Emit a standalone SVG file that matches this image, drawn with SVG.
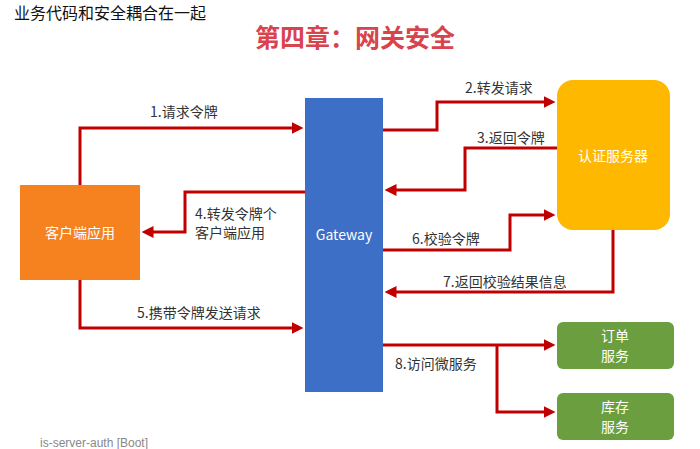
<svg xmlns="http://www.w3.org/2000/svg" width="700" height="449" viewBox="0 0 700 449">
<defs>
<marker id="ah" markerWidth="4" markerHeight="4" refX="2.5" refY="2" orient="auto" markerUnits="strokeWidth"><path d="M0,0 L4,2 L0,4 Z" fill="#C00000"/></marker>
<style>
.c{fill:none;stroke:#C00000;stroke-width:3;marker-end:url(#ah)}
.l{font-family:"Noto Sans CJK SC","Liberation Sans",sans-serif;font-size:14px;fill:#333}
.w{font-family:"Noto Sans CJK SC","Liberation Sans",sans-serif;font-size:14px;fill:#fff;text-anchor:middle}
</style>
</defs>
<rect width="700" height="449" fill="#fff"/>
<text x="14" y="19" font-family="Liberation Serif,Noto Sans CJK SC,serif" font-size="16" fill="#111">业务代码和安全耦合在一起</text>
<text x="355" y="47" text-anchor="middle" font-family="Noto Sans CJK SC,sans-serif" font-weight="bold" font-size="25" fill="#D9434E">第四章：网关安全</text>
<g id="gateway"><rect x="305" y="98" width="78" height="294" fill="#3E6FC6"/><text class="w" x="344" y="240" font-size="13">Gateway</text></g>
<g id="client"><rect x="20" y="185" width="120" height="95" fill="#F5821F"/><text class="w" x="80" y="238">客户端应用</text></g>
<g id="auth"><rect x="557" y="80" width="113" height="150" rx="16" fill="#FFB800"/><text class="w" x="613" y="161">认证服务器</text></g>
<g id="order"><rect x="557" y="322" width="117" height="47" rx="6" fill="#6A9E3F"/><text class="w" x="615" y="341">订单</text><text class="w" x="615" y="361">服务</text></g>
<g id="stock"><rect x="557" y="393" width="117" height="47" rx="6" fill="#6A9E3F"/><text class="w" x="615" y="412">库存</text><text class="w" x="615" y="432">服务</text></g>
<g id="connectors">
<path class="c" d="M80,185 V128 H299"/>
<path class="c" d="M383,130 H437 V102 H551"/>
<path class="c" d="M557,148 H465 V190 H389"/>
<path class="c" d="M305,192 H185 V232 H146"/>
<path class="c" d="M383,250 H510 V215 H551"/>
<path class="c" d="M613,230 V292 H389"/>
<path class="c" d="M80,280 V328 H299"/>
<path class="c" d="M383,345 H551"/>
<path class="c" d="M497,345 V412 H551"/>
</g>
<g id="labels">
<text class="l" x="150" y="117">1.请求令牌</text>
<text class="l" x="465" y="93">2.转发请求</text>
<text class="l" x="477" y="143">3.返回令牌</text>
<text class="l" x="195" y="219">4.转发令牌个</text>
<text class="l" x="195" y="238">客户端应用</text>
<text class="l" x="412" y="244">6.校验令牌</text>
<text class="l" x="443" y="287">7.返回校验结果信息</text>
<text class="l" x="137" y="318">5.携带令牌发送请求</text>
<text class="l" x="395" y="369">8.访问微服务</text>
</g>
<text x="40" y="447" font-family="Liberation Sans,sans-serif" font-size="12" fill="#888">is-server-auth [Boot]</text>
</svg>
